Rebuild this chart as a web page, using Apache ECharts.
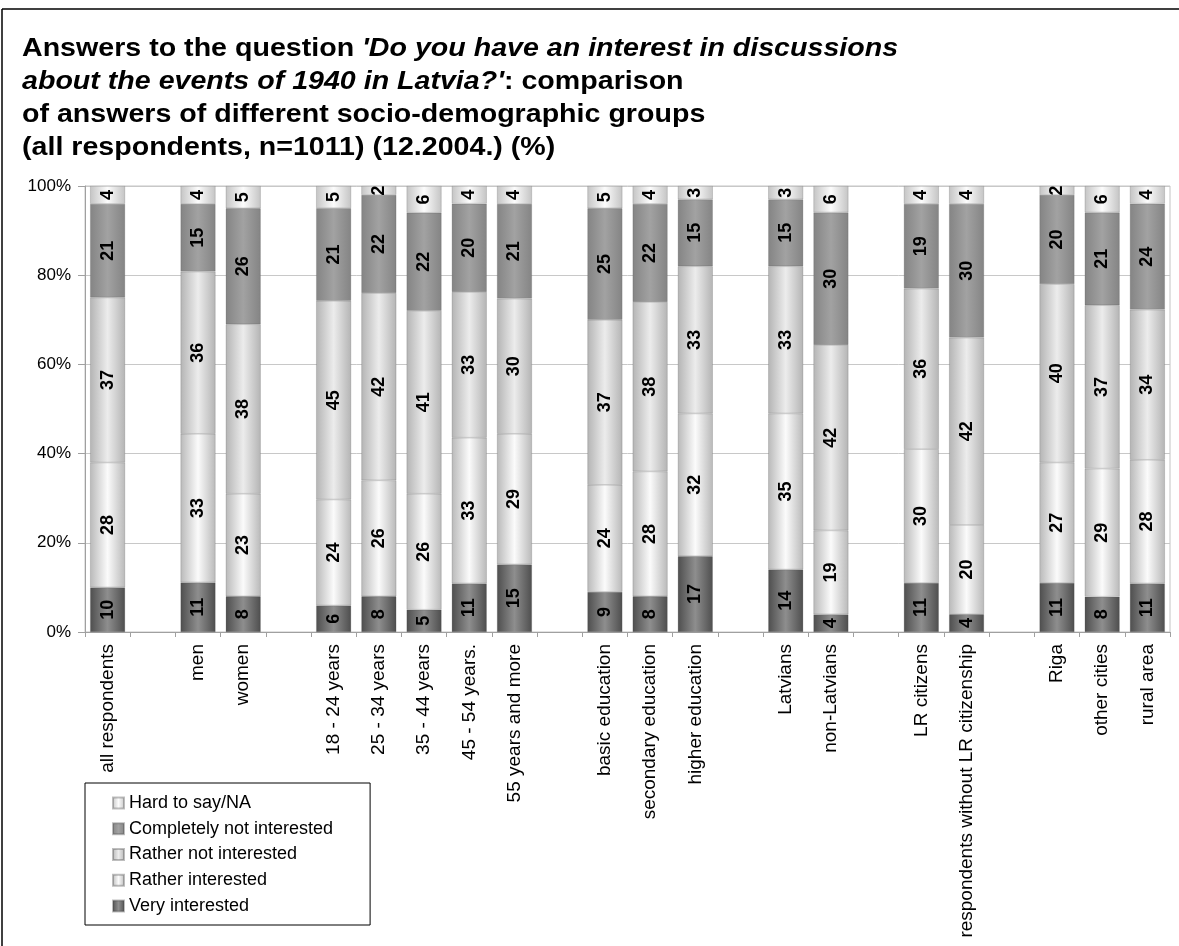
<!DOCTYPE html>
<html>
<head>
<meta charset="utf-8">
<script src="https://cdn.jsdelivr.net/npm/echarts@6/dist/echarts.min.js"></script>
<style>
  html, body { margin: 0; padding: 0; background: #fff; }
  #chart { width: 1179px; height: 946px; }
</style>
</head>
<body>
<div id="chart"></div>
<script>
// Groups along the x axis; empty strings are spacer slots between groups
const categories = [
  'all respondents', '',
  'men', 'women', '',
  '18 - 24 years', '25 - 34 years', '35 - 44 years', '45 - 54 years.', '55 years and more', '',
  'basic education', 'secondary education', 'higher education', '',
  'Latvians', 'non-Latvians', '',
  'LR citizens', 'respondents without LR citizenship', '',
  'Riga', 'other cities', 'rural area'
];

const seriesNames = ['Very interested', 'Rather interested', 'Rather not interested',
                     'Completely not interested', 'Hard to say/NA'];

// Answer shares in percent, null in spacer slots
const veryInterested = [10, null, 11, 8, null, 6, 8, 5, 11, 15, null, 9, 8, 17, null, 14, 4, null, 11, 4, null, 11, 8, 11];
const ratherInterested = [28, null, 33, 23, null, 24, 26, 26, 33, 29, null, 24, 28, 32, null, 35, 19, null, 30, 20, null, 27, 29, 28];
const ratherNotInterested = [37, null, 36, 38, null, 45, 42, 41, 33, 30, null, 37, 38, 33, null, 33, 42, null, 36, 42, null, 40, 37, 34];
const completelyNotInterested = [21, null, 15, 26, null, 21, 22, 22, 20, 21, null, 25, 22, 15, null, 15, 30, null, 19, 30, null, 20, 21, 24];
const hardToSay = [4, null, 4, 5, null, 5, 2, 6, 4, 4, null, 5, 4, 3, null, 3, 6, null, 4, 4, null, 2, 6, 4];

const yTicks = [0, 20, 40, 60, 80, 100];

const rawSeries = [veryInterested, ratherInterested, ratherNotInterested, completelyNotInterested, hardToSay];

// Cylinder-like horizontal shading for each answer
const shades = [
  ['#4e4e4e', '#8e8e8e'],
  ['#b9b9b9', '#fbfbfb'],
  ['#b4b4b4', '#ececec'],
  ['#848484', '#a2a2a2'],
  ['#c4c4c4', '#fcfcfc']
];

function shade(pair) {
  return new echarts.graphic.LinearGradient(0, 0, 1, 0, [
    { offset: 0, color: pair[0] },
    { offset: 0.5, color: pair[1] },
    { offset: 1, color: pair[0] }
  ]);
}

// Each bar is drawn as a 100% stack: every answer is scaled by its group's total
const totals = categories.map((c, i) =>
  rawSeries.reduce((s, arr) => s + (arr[i] == null ? 0 : arr[i]), 0));

const FONT = 'Liberation Sans, Arial, sans-serif';

const series = rawSeries.map((arr, k) => ({
  name: seriesNames[k],
  type: 'bar',
  stack: 'total',
  barWidth: 35,
  data: arr.map((v, i) => v == null ? '-' : v / totals[i] * 100),
  itemStyle: {
    color: shade(shades[k]),
    borderColor: 'rgba(70,70,70,0.35)',
    borderWidth: 0.6
  },
  label: {
    show: true,
    position: 'inside',
    rotate: 90,
    fontFamily: FONT,
    fontWeight: 'bold',
    fontSize: 18,
    color: '#000',
    formatter: p => String(arr[p.dataIndex])
  },
  emphasis: { disabled: true }
}));

const titleText =
  "Answers to the question {i|'Do you have an interest in discussions}\n" +
  "{i|about the events of 1940 in Latvia?'}: comparison\n" +
  "of answers of different socio-demographic groups\n" +
  "(all respondents, n=1011) (12.2004.) (%)";

const chart = echarts.init(document.getElementById('chart'), null, { renderer: 'canvas' });

chart.setOption({
  backgroundColor: '#fff',
  animation: false,
  legend: {
    orient: 'vertical',
    left: 85,
    top: 783,
    padding: [11, 37, 10, 27],
    borderColor: '#000',
    borderWidth: 1,
    itemWidth: 11,
    itemHeight: 11,
    itemGap: 7.75,
    icon: 'rect',
    data: ['Hard to say/NA', 'Completely not interested', 'Rather not interested',
           'Rather interested', 'Very interested'],
    textStyle: { fontFamily: FONT, fontSize: 18, lineHeight: 18, color: '#000' }
  },
  grid: {
    left: 85,
    right: 9,
    top: 186,
    bottom: 314,
    show: true,
    borderColor: '#c4c4c4',
    borderWidth: 1
  },
  xAxis: {
    type: 'category',
    data: categories,
    axisLine: { lineStyle: { color: '#a0a0a0' } },
    axisTick: { show: true, interval: 0, length: 5, lineStyle: { color: '#a0a0a0' } },
    axisLabel: {
      interval: 0,
      rotate: 90,
      margin: 12,
      fontFamily: FONT,
      fontSize: 19,
      color: '#000'
    }
  },
  yAxis: {
    type: 'value',
    min: yTicks[0],
    max: yTicks[yTicks.length - 1],
    interval: 20,
    axisLine: { show: true, lineStyle: { color: '#a0a0a0' } },
    axisTick: { show: true, length: 7, lineStyle: { color: '#a0a0a0' } },
    splitLine: { lineStyle: { color: '#c8c8c8' } },
    axisLabel: {
      margin: 14,
      fontFamily: FONT,
      fontSize: 17,
      color: '#000',
      formatter: '{value}%'
    }
  },
  series: series,
  graphic: [
    {
      type: 'text',
      x: 22,
      y: 32,
      scaleX: 1.1,
      style: {
        text: titleText,
        align: 'left',
        verticalAlign: 'top',
        fill: '#000',
        fontFamily: FONT,
        fontWeight: 'bold',
        fontSize: 26,
        lineHeight: 33,
        rich: {
          i: {
            fill: '#000',
            fontFamily: FONT,
            fontWeight: 'bold',
            fontStyle: 'italic',
            fontSize: 26,
            lineHeight: 33
          }
        }
      }
    },
    { type: 'line', shape: { x1: 2, y1: 9, x2: 1179, y2: 9 }, style: { stroke: '#000', lineWidth: 1.5 } },
    { type: 'line', shape: { x1: 2, y1: 9, x2: 2, y2: 946 }, style: { stroke: '#000', lineWidth: 1.5 } }
  ]
});
</script>
</body>
</html>
